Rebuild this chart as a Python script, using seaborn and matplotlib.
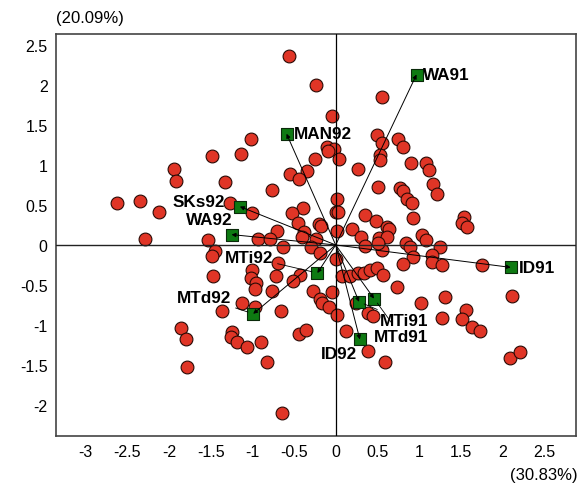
import matplotlib
matplotlib.use("Agg")
import matplotlib.pyplot as plt
import seaborn as sns
import pandas as pd

# ---------------- data ----------------
obs_x = [-1.49, -1.14, -1.94, -1.92, -1.33, -2.62, -2.35, -2.12, -1.27, -2.29,
         -1.53, -1.02, -1.01, -0.56, -0.24, 0.56, -0.04, 0.49, 0.56, 0.75,
         0.81, -0.11, -0.02, -0.09, 0.04, -0.25, 0.53, 0.53, 0.27, 0.90,
         1.08, 1.12, -0.55, -0.35, -0.44, -0.77, 0.51, 0.77, 0.81, 1.17,
         1.22, 0.02, 0.85, 0.91, -0.39, -0.53, 0.00, 0.03, 0.35, 0.93,
         -0.45, -0.20, -0.18, 0.48, 0.61, 0.64, -0.70, -0.38, 0.20, 0.01,
         1.03, 1.08, -0.93, -0.79, -0.40, -0.24, 0.30, 0.52, 0.61, 0.84,
         0.89, 1.54, 1.52, 1.57, 1.25, -1.45, -1.49, -1.47, -1.00, -1.02,
         -0.96, -0.97, -1.13, -0.97, -1.36, -1.86, -1.80, -1.25, -1.26, -1.19,
         -1.07, -1.78, -0.90, -0.82, -0.63, -0.30, -0.19, 0.00, 0.35, 0.55,
         0.51, 0.93, 1.16, 1.16, 0.81, -0.69, -0.72, -0.43, -0.51, 0.08,
         0.17, 0.27, 0.34, 0.41, 0.49, 0.57, 0.74, -0.76, -0.27, -0.04,
         -0.19, -0.16, -0.08, 0.01, -0.66, 0.24, 0.39, 0.45, 0.12, 0.39,
         0.59, 1.02, -0.44, -0.36, -0.64, 1.28, 1.76, 2.11, 1.31, 1.27,
         1.56, 1.51, 1.63, 1.73, 2.09, 2.21]
obs_y = [1.11, 1.14, 0.95, 0.80, 0.79, 0.53, 0.55, 0.41, 0.53, 0.07,
         0.06, 1.33, 0.40, 2.36, 2.00, 1.85, 1.61, 1.38, 1.27, 1.32,
         1.23, 1.22, 1.20, 1.17, 1.07, 1.07, 1.13, 1.06, 0.95, 1.02,
         1.02, 0.94, 0.89, 0.93, 0.82, 0.69, 0.72, 0.71, 0.68, 0.76,
         0.64, 0.57, 0.57, 0.53, 0.46, 0.40, 0.41, 0.41, 0.37, 0.34,
         0.28, 0.26, 0.24, 0.30, 0.23, 0.20, 0.17, 0.16, 0.20, 0.18,
         0.12, 0.06, 0.07, 0.08, 0.10, 0.07, 0.10, 0.09, 0.10, 0.02,
         -0.02, 0.35, 0.27, 0.23, -0.02, -0.07, -0.14, -0.39, -0.31, -0.41,
         -0.47, -0.55, -0.72, -0.77, -0.83, -1.04, -1.18, -1.09, -1.15, -1.21,
         -1.28, -1.52, -1.21, -1.46, -0.03, -0.03, -0.10, -0.17, -0.01, -0.06,
         0.03, -0.15, -0.13, -0.21, -0.24, -0.22, -0.39, -0.37, -0.45, -0.39,
         -0.39, -0.35, -0.35, -0.31, -0.29, -0.37, -0.52, -0.58, -0.57, -0.59,
         -0.68, -0.72, -0.78, -0.88, -0.82, -0.72, -0.85, -0.89, -1.07, -1.32,
         -1.46, -0.73, -1.11, -1.06, -2.10, -0.25, -0.25, -0.64, -0.65, -0.91,
         -0.81, -0.92, -1.02, -1.07, -1.41, -1.34]

var_names = ["WA91", "MAN92", "SKs92", "WA92", "MTi92",
             "MTd92", "MTi91", "MTd91", "ID92", "ID91"]
var_x = [0.97, -0.59, -1.15, -1.25, -0.22, -0.99, 0.28, 0.46, 0.29, 2.10]
var_y = [2.13, 1.39, 0.48, 0.13, -0.35, -0.86, -0.71, -0.67, -1.18, -0.28]

x_ticks = [-3, -2.5, -2, -1.5, -1, -0.5, 0, 0.5, 1, 1.5, 2, 2.5]
x_tick_labels = ["-3", "-2.5", "-2", "-1.5", "-1", "-0.5", "0", "0.5", "1", "1.5", "2", "2.5"]
y_ticks = [-2, -1.5, -1, -0.5, 0, 0.5, 1, 1.5, 2, 2.5]
y_tick_labels = ["-2", "-1.5", "-1", "-0.5", "0", "0.5", "1", "1.5", "2", "2.5"]

y_axis_label = "(20.09%)"
x_axis_label = "(30.83%)"

# label placement (offset in points, alignment, leader line)
label_style = {
    "WA91":  ((5, 0), "left", False),
    "MAN92": ((5.5, 0), "left", False),
    "ID91":  ((6, 0), "left", False),
    "SKs92": ((-11, 4), "right", False),
    "WA92":  ((0.5, 11), "right", False),
    "MTi92": ((-32, 11.5), "right", True),
    "MTd92": ((-16, 11.7), "right", True),
    "MTi91": ((15, -13.7), "left", True),
    "MTd91": ((0, -27), "left", True),
    "ID92":  ((-2, -10.4), "right", False),
}

# ---------------- figure ----------------
sns.set_style("white")
plt.rcParams["font.family"] = ["Liberation Sans", "DejaVu Sans"]
plt.rcParams["axes.unicode_minus"] = False
plt.rcParams["text.color"] = "black"

fig = plt.figure(figsize=(5.82, 4.85), dpi=100)
ax = fig.add_axes([0.0962, 0.0990, 0.8935, 0.8289])

obs = pd.DataFrame({"x": obs_x, "y": obs_y})
var = pd.DataFrame({"x": var_x, "y": var_y, "name": var_names})

sns.scatterplot(data=obs, x="x", y="y", ax=ax, s=85, color="#E03526",
                edgecolor="#2a0a05", linewidth=0.8, zorder=2, legend=False)

# zero lines
ax.axhline(0, color="#222222", lw=1.0, zorder=3)
ax.axvline(0, color="black", lw=0.9, zorder=3)

sns.scatterplot(data=var, x="x", y="y", ax=ax, marker="s", s=72,
                color="#0E7A12", edgecolor="#0a2a0a", linewidth=0.8,
                zorder=4, legend=False)

for _, r in var.iterrows():
    ax.annotate("", xy=(r.x, r.y), xytext=(0, 0),
                arrowprops=dict(arrowstyle="-|>", lw=0.7, color="black",
                                mutation_scale=6, shrinkA=0, shrinkB=0),
                zorder=5)
    off, ha, leader = label_style[r["name"]]
    ap = None
    if leader:
        ap = dict(arrowstyle="-", lw=0.6, color="black", shrinkA=1, shrinkB=4)
    ax.annotate(r["name"], xy=(r.x, r.y), xytext=off, textcoords="offset points",
                ha=ha, va="center", fontsize=12.3, fontweight="bold",
                color="black", arrowprops=ap, zorder=6)

ax.set_xlim(-3.357, 2.884)
ax.set_ylim(-2.3875, 2.6375)
ax.set_xticks(x_ticks)
ax.set_xticklabels(x_tick_labels)
ax.set_yticks(y_ticks)
ax.set_yticklabels(y_tick_labels)
ax.set_xlabel("")
ax.set_ylabel("")
ax.tick_params(axis="both", direction="in", length=3, width=0.8,
               labelsize=11.5, pad=6, colors="black")
for sp in ax.spines.values():
    sp.set_color("#444444")
    sp.set_linewidth(1.2)

fig.text(56 / 582, 1 - 18 / 485, y_axis_label, ha="left", va="center",
         fontsize=12, color="black")
fig.text(578 / 582, 1 - 476 / 485, x_axis_label, ha="right", va="center",
         fontsize=12, color="black")

fig.savefig("out.png", dpi=100)
